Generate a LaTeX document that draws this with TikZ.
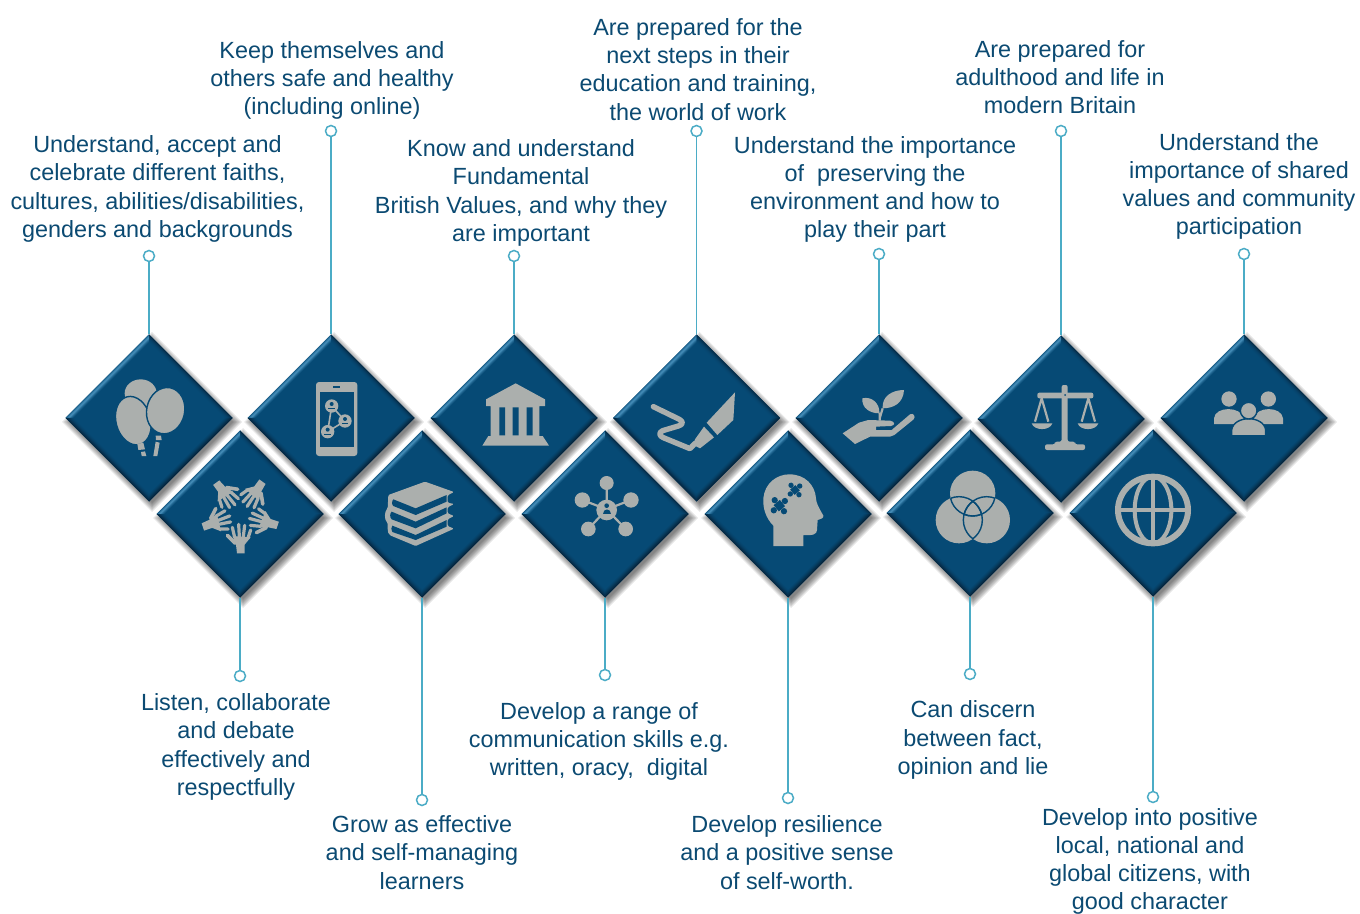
\documentclass[tikz,border=0pt]{standalone}
\usepackage{fontspec}
\setmainfont{Liberation Sans}
\usetikzlibrary{shapes.geometric}
\definecolor{gembase}{HTML}{064A75}
\definecolor{gemhi}{HTML}{5AA3CF}
\definecolor{gemdk}{HTML}{05233A}
\definecolor{icongrey}{HTML}{ABAFAD}
\definecolor{linkblue}{HTML}{4BACC6}
\definecolor{textblue}{HTML}{0B4A72}
\tikzset{
  gem/.style={shape=diamond,aspect=1,inner sep=0pt,outer sep=0pt,minimum width=83.5pt,minimum height=83.5pt,fill=gembase},
  dot/.style={circle,draw=linkblue,fill=white,line width=.75pt,inner sep=0pt,minimum size=5.5pt},
  link/.style={draw=linkblue,line width=.75pt},
  lbl/.style={align=center,text=textblue,inner sep=0pt,font=\fontsize{11.7}{14.1}\selectfont},
  icon/.style={fill=icongrey,draw=none},
  cut/.style={fill=gembase,draw=none},
  zm/.style 2 args={shift={(#1,#2)},x=0.166667pt,y=-0.166667pt},
}
\newcommand{\gemshadow}[2]{%
  \foreach \r in {6,4.5,3,1.5,0,-1.5,-3}{%
    \fill[black,opacity=.085] ({#1+3-84-\r},{#2+4}) -- ({#1+3},{#2+4-84-\r}) -- ({#1+3+84+\r},{#2+4}) -- ({#1+3},{#2+4+84+\r}) -- cycle;}%
}
\newcommand{\gembevel}[2]{%
  \begin{scope}[shift={(#1,#2)}]
  \foreach \k/\tl/\tr/\br/\bl in {0/25/80/95/85,1/45/62/85/75,2/65/45/70/60,3/75/30/55/45,4/60/20/40/32,5/40/12/28/22,6/25/7/16/12,7/10/3/8/6}{%
    \pgfmathsetmacro{\h}{83.5-\k}
    \fill[gemhi!\tl!gembase] (-\h,0) -- (0,-\h) -- (0,0) -- cycle;
    \fill[gemdk!\tr!gembase] (0,-\h) -- (\h,0) -- (0,0) -- cycle;
    \fill[gemdk!\br!gembase] (\h,0) -- (0,\h) -- (0,0) -- cycle;
    \fill[gemdk!\bl!gembase] (0,\h) -- (-\h,0) -- (0,0) -- cycle;
  }
  \fill[gembase] (-75.5,0) -- (0,-75.5) -- (75.5,0) -- (0,75.5) -- cycle;
  \end{scope}%
}
\newcommand{\handicon}[1]{%
  \begin{scope}[shift={(240,514)},rotate=#1,x=0.166667pt,y=-0.166667pt]
  \fill[icon] (-9,118) -- (14,118) -- (14,92) -- (32,70) -- (-22,66) -- (-12,92) -- cycle;
  \draw[icongrey,line width=1.8pt,line cap=round] (-14,88) -- (-38,64);
  \draw[icongrey,line width=1.6pt,line cap=round] (-16,70) -- (-23,40) (-2,68) -- (-4,31) (10,68) -- (14,34) (24,72) -- (32,48);
  \end{scope}%
}
\newcommand{\puzzle}[4]{% x y rot scale
  \begin{scope}[shift={(#1,#2)},rotate=#3,scale=#4]
  \fill[cut] (-9,-9) rectangle (9,9);
  \fill[cut] (16,0) circle (7) (-16,0) circle (7) (0,16) circle (7) (0,-16) circle (7);
  \end{scope}%
}
\newcommand{\faceicon}[2]{%
  \fill[icon] (#1,#2) circle (20);
  \fill[cut] (#1,#2-6) circle (6);
  \fill[cut] (#1-10,#2+6) rectangle (#1+10,#2+10);
}
\begin{document}
\begin{tikzpicture}[x=0.5pt,y=-0.5pt]
\useasboundingbox (0,0) rectangle (1360,914);
\fill[white] (0,0) rectangle (1360,914);
% shadows
\gemshadow{149}{418}\gemshadow{331}{418}\gemshadow{514}{418}\gemshadow{696.5}{418}\gemshadow{879}{418}\gemshadow{1061}{419}\gemshadow{1244}{418}
\gemshadow{240}{514}\gemshadow{422}{514}\gemshadow{605}{514}\gemshadow{788}{514}\gemshadow{970}{513}\gemshadow{1153}{513}
% gems
\node[gem] (g1) at (149,418) {};
\node[gem] (g2) at (331,418) {};
\node[gem] (g3) at (514,418) {};
\node[gem] (g4) at (696.5,418) {};
\node[gem] (g5) at (879,418) {};
\node[gem] (g6) at (1061,419) {};
\node[gem] (g7) at (1244,418) {};
\node[gem] (h1) at (240,514) {};
\node[gem] (h2) at (422,514) {};
\node[gem] (h3) at (605,514) {};
\node[gem] (h4) at (788,514) {};
\node[gem] (h5) at (970,513) {};
\node[gem] (h6) at (1153,513) {};
\gembevel{149}{418}\gembevel{331}{418}\gembevel{514}{418}\gembevel{696.5}{418}\gembevel{879}{418}\gembevel{1061}{419}\gembevel{1244}{418}
\gembevel{240}{514}\gembevel{422}{514}\gembevel{605}{514}\gembevel{788}{514}\gembevel{970}{513}\gembevel{1153}{513}
% dots
\node[dot] (d1) at (149,256) {};
\node[dot] (d2) at (331,131) {};
\node[dot] (d3) at (514,256) {};
\node[dot] (d4) at (696.5,131) {};
\node[dot] (d5) at (879,254) {};
\node[dot] (d6) at (1061,131) {};
\node[dot] (d7) at (1244,254) {};
\node[dot] (e1) at (240,676) {};
\node[dot] (e2) at (422,800) {};
\node[dot] (e3) at (605,675) {};
\node[dot] (e4) at (788,798) {};
\node[dot] (e5) at (970,674) {};
\node[dot] (e6) at (1153,797) {};
\foreach \a/\b in {g1/d1,g2/d2,g3/d3,g4/d4,g5/d5,g6/d6,g7/d7}{\draw[link] (\a.north) -- (\b);}
\foreach \a/\b in {h1/e1,h2/e2,h3/e3,h4/e4,h5/e5,h6/e6}{\draw[link] (\a.south) -- (\b);}
% labels
\node[lbl] (t1) at (157.5,189) {Understand, accept and\\celebrate different faiths,\\cultures, abilities/disabilities,\\genders and backgrounds};
\node[lbl] (t2) at (332,80.5) {Keep themselves and\\others safe and healthy\\(including online)};
\node[lbl] (t3) at (521,193) {Know and understand\\Fundamental\\British Values, and why they\\are important};
\node[lbl] (t4) at (698,69.5) {Are prepared for the\\next steps in their\\education and training,\\the world of work};
\node[lbl] (t5) at (875,189.5) {Understand the importance\\of\ \ preserving the\\environment and how to\\play their part};
\node[lbl] (t6) at (1060,77) {Are prepared for\\adulthood and life in\\modern Britain};
\node[lbl] (t7) at (1239,186.5) {Understand the\\importance of shared\\values and community\\participation};
\node[lbl] (b1) at (236,747) {Listen, collaborate\\and debate\\effectively and\\respectfully};
\node[lbl] (b2) at (422,852.5) {Grow as effective\\and self-managing\\learners};
\node[lbl] (b3) at (599,741.5) {Develop a range of\\communication skills e.g.\\written, oracy,\ \ digital};
\node[lbl] (b4) at (787,852.5) {Develop resilience\\and a positive sense\\of self-worth.};
\node[lbl] (b5) at (973,740) {Can discern\\between fact,\\opinion and lie};
\node[lbl] (b6) at (1150,861.5) {Develop into positive\\local, national and\\global citizens, with\\good character};
% balloons
\begin{scope}[zm={105}{370}]
  \fill[icon] (107,70) ellipse [x radius=48,y radius=42];
  \filldraw[fill=icongrey,draw=gembase,line width=.7pt,rotate around={15:(85,152)}] (85,152) ellipse [x radius=52,y radius=74];
  \fill[icon] (97,222) -- (115,218) -- (120,238) -- (100,240) -- cycle;
  \fill[icon] (108,246) -- (120,244) -- (124,258) -- (110,258) -- cycle;
  \filldraw[fill=icongrey,draw=gembase,line width=.7pt,rotate around={-12:(182,122)}] (182,122) ellipse [x radius=57,y radius=70];
  \fill[icon] (152,197) -- (168,197) -- (170,210) -- (153,210) -- cycle;
  \fill[icon] (152,215) -- (164,218) -- (157,258) -- (145,258) -- cycle;
\end{scope}
% phone
\begin{scope}[zm={60}{320}]
  \fill[icon,rounded corners=1.5pt] (768,186) rectangle (892,408);
  \fill[cut] (779,215) rectangle (882,380);
  \fill[cut] (820,198) rectangle (840,203);
  \draw[icongrey,line width=.8pt] (815,258) -- (855,303) -- (803,335) -- cycle;
  \faceicon{815}{258}\faceicon{855}{303}\faceicon{803}{335}
\end{scope}
% bank
\begin{scope}[zm={420}{320}]
  \fill[icon] (287,190) -- (375,238) -- (375,258) -- (358,258) -- (358,348) -- (368,348) -- (387,377) -- (187,377) -- (205,348) -- (212,348) -- (212,258) -- (198,258) -- (198,238) -- cycle;
  \fill[cut] (238,262) rectangle (255,346) (278,262) rectangle (296,346) (320,262) rectangle (338,346);
\end{scope}
% brush
\begin{scope}[zm={640}{380}]
  \fill[icon] (285,37) -- (200,128) -- (232,165) -- (280,120) -- cycle;
  \fill[icon] (192,140) -- (222,172) -- (180,205) -- (160,195) -- (165,178) -- cycle;
  \draw[icongrey,line width=2.7pt,line cap=round,line join=round] (40,80) -- (118,118) .. controls (132,126) and (128,134) .. (115,138) -- (68,152) .. controls (55,158) and (58,168) .. (70,173) -- (150,206) -- (165,190);
\end{scope}
% plant
\begin{scope}[zm={835}{380}]
  \fill[icon] (23,160) -- (72,128) -- (100,120) -- (165,122) .. controls (180,124) and (182,136) .. (168,138) -- (123,140) -- (123,150) -- (170,150) -- (225,103) .. controls (235,97) and (243,110) .. (236,118) -- (178,165) -- (165,170) -- (105,170) -- (60,192) -- cycle;
  \fill[icon] (82,55) .. controls (110,48) and (135,70) .. (133,100) .. controls (105,100) and (80,85) .. (82,55) -- cycle;
  \fill[icon] (207,30) .. controls (170,30) and (140,50) .. (143,85) .. controls (175,85) and (205,70) .. (207,30) -- cycle;
  \draw[icongrey,line width=1.1pt] (134,122) -- (134,98) (134,115) -- (143,85);
\end{scope}
% scales
\begin{scope}[zm={780}{320}]
  \fill[icon,rounded corners=1pt] (845,195) -- (863,195) -- (863,365) -- (885,365) -- (885,373) -- (915,373) -- (915,390) -- (795,390) -- (795,373) -- (825,373) -- (825,365) -- (845,365) -- cycle;
  \fill[icon,rounded corners=1pt] (772,218) rectangle (940,235);
  \draw[icongrey,line width=1.1pt,line join=round] (765,305) -- (785,235) -- (805,305) (905,305) -- (925,235) -- (945,305);
  \fill[icon] (755,310) -- (817,310) .. controls (810,333) and (762,333) .. (755,310) -- cycle;
  \fill[icon] (893,310) -- (955,310) .. controls (948,333) and (900,333) .. (893,310) -- cycle;
  \fill[cut] (855,225) circle (3);
\end{scope}
% hands
\foreach \a in {0,72,144,216,288}{\handicon{\a}}
% books
\begin{scope}[zm={375}{470}]
  \fill[icon,rounded corners=.6pt] (150,35) -- (237,66) -- (218,76) -- (218,98) -- (237,102) -- (218,112) -- (218,130) -- (237,138) -- (218,148) -- (218,168) -- (237,176) -- (122,228) -- (50,198) .. controls (40,194) and (38,185) .. (38,170) -- (38,158) .. controls (28,150) and (28,125) .. (38,115) -- (40,75) -- cycle;
  \fill[cut] (55,88) -- (122,115) -- (215,75) -- (215,95) -- (122,135) -- (55,108) .. controls (50,105) and (50,92) .. (55,88) -- cycle;
  \fill[cut] (50,125) -- (122,155) -- (215,112) -- (215,130) -- (122,175) -- (50,148) .. controls (44,142) and (44,130) .. (50,125) -- cycle;
  \fill[cut] (52,167) -- (122,195) -- (215,150) -- (215,170) -- (122,210) -- (52,186) .. controls (48,180) and (48,172) .. (52,167) -- cycle;
\end{scope}
% network
\begin{scope}[zm={420}{320}]
  \draw[icongrey,line width=1.1pt] (560,568) -- (560,489) (560,568) -- (487,540) (560,568) -- (633,540) (560,568) -- (505,627) (560,568) -- (617,627);
  \fill[icon] (560,489) circle (21) (487,540) circle (23) (633,540) circle (23) (505,627) circle (22) (617,627) circle (22) (560,570) circle (31);
  \fill[cut] (560,557) circle (7);
  \fill[cut] (548,582) .. controls (548,564) and (572,564) .. (572,582) -- cycle;
\end{scope}
% head
\begin{scope}[zm={750}{465}]
  \fill[icon] (70,243) -- (70,182) .. controls (48,160) and (38,130) .. (40,100) .. controls (44,55) and (80,28) .. (118,28) .. controls (165,28) and (195,60) .. (198,100) .. controls (199,115) and (205,125) .. (220,152) .. controls (222,160) and (210,163) .. (203,165) -- (201,195) .. controls (200,208) and (190,212) .. (160,210) -- (160,243) -- cycle;
  \puzzle{135}{75}{40}{1.15}
  \puzzle{88}{122}{40}{1.35}
\end{scope}
% venn
\begin{scope}[zm={780}{320}]
  \fill[icon] (578,520) circle (68) (537,600) circle (70) (620,600) circle (70);
  \begin{scope}\clip (578,520) circle (68); \draw[gembase,line width=.7pt] (537,600) circle (70) (620,600) circle (70); \end{scope}
  \begin{scope}\clip (537,600) circle (70); \draw[gembase,line width=.7pt] (578,520) circle (68) (620,600) circle (70); \end{scope}
  \begin{scope}\clip (620,600) circle (70); \draw[gembase,line width=.7pt] (578,520) circle (68) (537,600) circle (70); \end{scope}
\end{scope}
% globe
\begin{scope}[zm={1060}{320}]
  \draw[icongrey,line width=3pt] (279,570) ellipse [x radius=105,y radius=100];
  \draw[icongrey,line width=2pt] (279,570) ellipse [x radius=55,y radius=100];
  \draw[icongrey,line width=1.8pt] (279,470) -- (279,670) (174,570) -- (384,570);
\end{scope}
% people
\begin{scope}[zm={1060}{320}]
  \fill[icon] (507,237) circle (23) (625,237) circle (23);
  \fill[icon] (462,312) -- (462,295) .. controls (465,258) and (545,258) .. (550,295) -- (550,312) -- cycle;
  \fill[icon] (582,312) -- (582,295) .. controls (588,258) and (665,258) .. (669,295) -- (669,312) -- cycle;
  \filldraw[fill=icongrey,draw=gembase,line width=.7pt] (515,350) -- (515,330) .. controls (521,285) and (611,285) .. (617,330) -- (617,350) -- cycle;
  \filldraw[fill=icongrey,draw=gembase,line width=.7pt] (566,272) circle (25);
  \fill[cut] (505,346) rectangle (625,356);
\end{scope}
\end{tikzpicture}
\end{document}
